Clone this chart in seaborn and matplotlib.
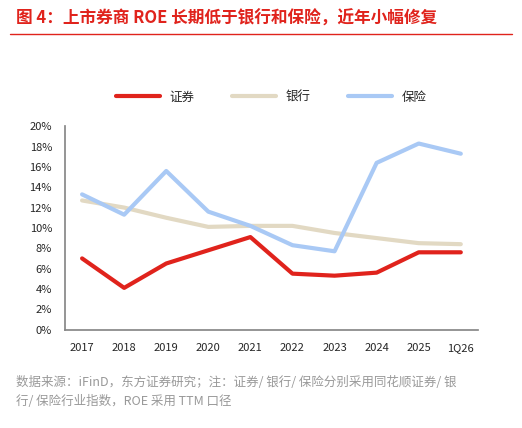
import matplotlib
matplotlib.use("Agg")
import matplotlib.pyplot as plt
import seaborn as sns
import pandas as pd
from matplotlib.ticker import PercentFormatter

years = ["2017","2018","2019","2020","2021","2022","2023","2024","2025","1Q26"]
sec = [7.0,4.1,6.5,7.8,9.1,5.5,5.3,5.6,7.6,7.6]
bank = [12.7,12.0,11.0,10.1,10.2,10.2,9.5,9.0,8.5,8.4]
ins = [13.3,11.3,15.6,11.6,10.2,8.3,7.7,16.4,18.3,17.3]
names = ["证券","银行","保险"]
colors = ["#E0231C","#E2D9C3","#A9C9F5"]

sns.set_theme(style="white")
plt.rcParams['font.family'] = ['Noto Sans CJK SC','DejaVu Sans']

df = pd.DataFrame({"x": list(range(len(years)))*3,
                   "v": sec+bank+ins,
                   "s": [names[0]]*10+[names[1]]*10+[names[2]]*10})

fig = plt.figure(figsize=(5.22,4.28), dpi=100)
ax = fig.add_axes([0.125,0.23,0.79,0.475])
sns.lineplot(data=df, x="x", y="v", hue="s", palette=colors, linewidth=3, ax=ax)
ax.set_xticks(range(len(years)))
ax.set_xticklabels(years, fontsize=8)
ax.set_xlim(-0.4, len(years)-0.6)
ax.set_ylim(0,20)
ax.set_yticks(range(0,21,2))
ax.yaxis.set_major_formatter(PercentFormatter(decimals=0))
ax.tick_params(axis='y', labelsize=8)
ax.set_xlabel(""); ax.set_ylabel("")
for s in ["top","right"]:
    ax.spines[s].set_visible(False)
ax.spines["left"].set_color("#888888")
ax.spines["bottom"].set_color("#888888")
ax.legend(loc="upper center", bbox_to_anchor=(0.5,1.23), ncol=3, frameon=False,
          fontsize=9, handlelength=3.5, columnspacing=3)
fig.text(0.03,0.945,"图 4：上市券商 ROE 长期低于银行和保险，近年小幅修复",
         color="#E0231C", fontsize=12, fontweight="bold")
fig.lines.append(plt.Line2D([0.02,0.98],[0.92,0.92],transform=fig.transFigure,color="#E0231C",lw=1))
fig.text(0.03,0.085,"数据来源：iFinD，东方证券研究；注：证券/ 银行/ 保险分别采用同花顺证券/ 银\n行/ 保险行业指数，ROE 采用 TTM 口径",
         color="#999999", fontsize=9, linespacing=1.6, va="center")
fig.savefig("out.png", dpi=100)
